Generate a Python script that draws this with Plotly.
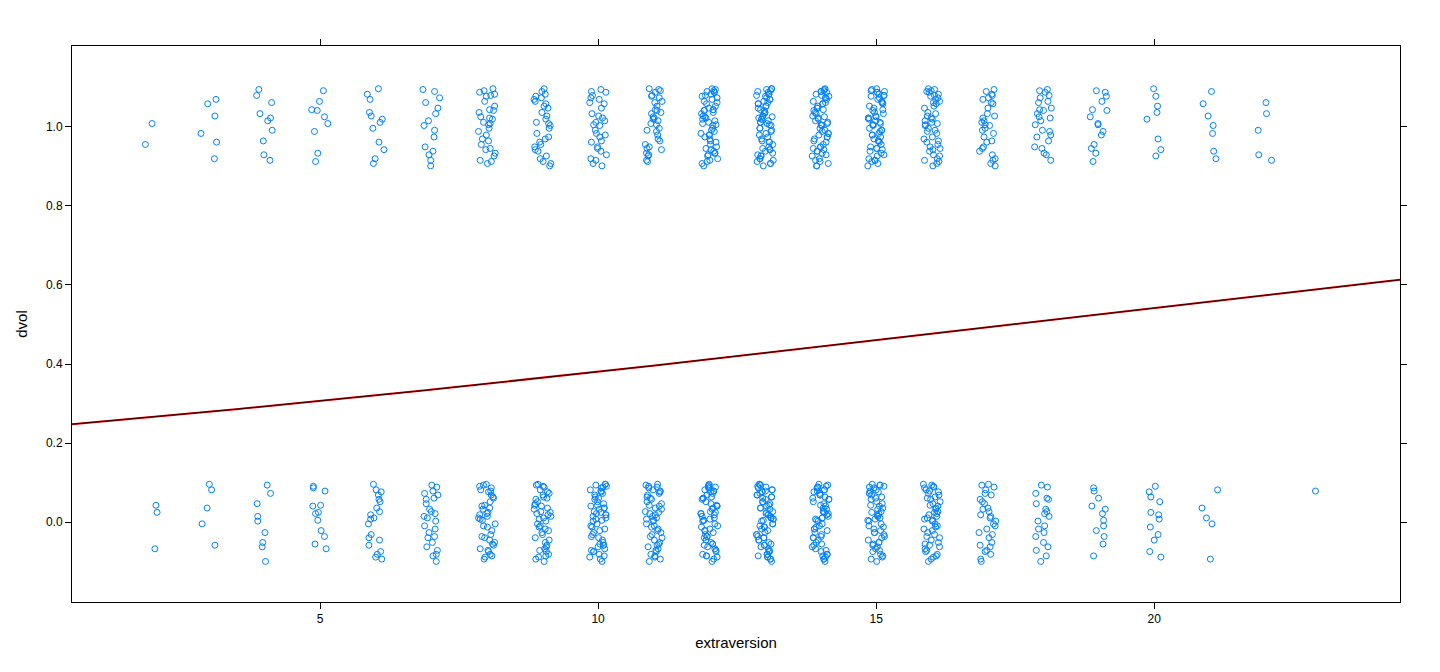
import plotly.graph_objects as go
import numpy as np

levels = [2,3,4,5,6,7,8,9,10,11,12,13,14,15,16,17,18,19,20,21,22,23]
count0 = [3,5,9,12,20,25,40,45,55,50,60,70,60,55,50,30,20,12,12,5,0,1]
count1 = [2,6,10,9,12,15,30,30,30,35,55,65,60,60,45,30,25,15,8,7,5,0]
# hand-typed jitter offset table (y in dvol units, x in extraversion units)
jit_y = [0.043,-0.067,0.025,0.091,-0.012,0.064,-0.088,0.008,-0.045,0.077,
         -0.031,0.052,-0.074,0.019,0.096,-0.058,0.036,-0.004,0.082,-0.093,
         0.011,-0.039,0.069,-0.081,0.027,0.058,-0.017,0.089,-0.062,0.003,
         -0.099,0.047,-0.026,0.073,-0.051,0.015,0.094,-0.071,0.033,-0.009,
         0.061,-0.085,0.022,-0.036,0.079,-0.055,0.005,0.087,-0.021,0.041]
jit_x = [0.05,-0.09,0.12,-0.02,0.08,-0.13,0.01,0.10,-0.06,0.14,
         -0.11,0.03,-0.04,0.09,-0.14,0.06,-0.01,0.11,-0.08,0.02,
         0.13,-0.05,0.07,-0.12,0.00,0.04,-0.10,0.12,-0.03,0.08,
         -0.07,0.10,-0.15,0.06,0.02,-0.09,0.14,-0.01,0.05,-0.12,
         0.09,-0.06,0.11,-0.04,0.03,-0.13,0.07,0.01,-0.08,0.15]
coef = [-1.1445, 0.0657]  # logistic fit intercept, slope
x_range = [0.54, 24.42]

xs, ys = [], []
k = 0
for lv, n0, n1 in zip(levels, count0, count1):
    for val, n in ((0, n0), (1, n1)):
        for i in range(n):
            j = (k * 7 + i) % len(jit_y)
            jx = (k * 3 + i * 11) % len(jit_x)
            xs.append(lv + jit_x[jx]); ys.append(val + jit_y[j])
        k += 1

lx = np.linspace(x_range[0], x_range[1], 200)
ly = 1 / (1 + np.exp(-(coef[0] + coef[1] * lx)))

fig = go.Figure()
fig.add_trace(go.Scatter(x=xs, y=ys, mode='markers',
    marker=dict(symbol='circle-open', color='#0080ff', size=6, line=dict(width=1))))
fig.add_trace(go.Scatter(x=lx, y=ly, mode='lines', line=dict(color='#e00000', width=2)))
fig.add_trace(go.Scatter(x=lx, y=ly, mode='lines', line=dict(color='black', width=0.8)))

ax = dict(showgrid=False, zeroline=False, showline=True, linecolor='black', linewidth=1,
          mirror='ticks', ticks='outside', ticklen=6, tickcolor='black', automargin=False,
          tickfont=dict(size=12, color='black'))
fig.update_layout(width=1440, height=672, showlegend=False,
    plot_bgcolor='white', paper_bgcolor='white',
    font=dict(family='Liberation Sans, Arial', color='black'),
    margin=dict(l=64, r=48, t=38, b=78),
    xaxis=dict(ax, range=x_range, tickvals=[5,10,15,20],
               title=dict(text='extraversion', font=dict(size=15), standoff=12)),
    yaxis=dict(ax, range=[-0.2015, 1.204], tickvals=[0,0.2,0.4,0.6,0.8,1.0],
               ticktext=['0.0','0.2','0.4','0.6','0.8','1.0'],
               title=dict(text='dvol', font=dict(size=15), standoff=14)))
fig.write_html('out.html')
